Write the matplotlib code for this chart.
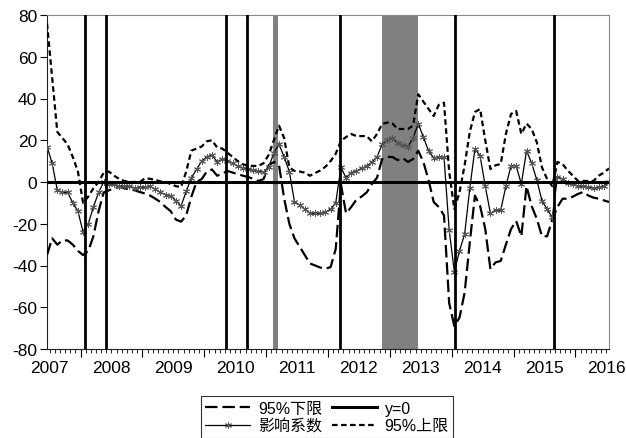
import matplotlib
matplotlib.use('Agg')
import matplotlib.pyplot as plt
from matplotlib.lines import Line2D
import numpy as np
import pandas as pd

plt.rcParams['font.family'] = ['Liberation Sans', 'Noto Sans CJK SC']
plt.rcParams['axes.unicode_minus'] = False
plt.rcParams['lines.scale_dashes'] = False

# ---------------- data ----------------
months = pd.period_range('2007-06', periods=110, freq='M')

coef = [17, 9, -4, -5, -5, -10, -14, -24, -20, -12,
        -5, 0, -1, -1, -2, -2, -2, -3, -2.5, -2.5,
        -2, -3.5, -5, -6, -6.5, -9, -11.5, -4.5, 2, 6,
        10, 12, 13, 9.6, 11, 10, 9, 7.5, 6.8, 6.2,
        5.8, 5.3, 4.8, 7, 14, 18, 12, 5, -9.5, -11,
        -13, -15, -15, -15, -14.5, -13, -10, 7, 2, 4.5,
        5.3, 6.5, 7.5, 9.5, 12, 18, 20, 21, 18.5, 17.5,
        17, 21, 28, 21.5, 15, 11.5, 12, 12, -23, -43,
        -33, -25, -3, 16, 12.5, -2, -15, -13.5, -13.5, -2,
        7.7, 7.7, -1, 15, 9, 1, -9, -13, -17, 2.4,
        1.4, -0.5, -1, -2, -2, -2.5, -3, -2.5, -2, 0]

lower = [-35, -27, -30, -28, -28, -30, -33, -35, -33, -26,
         -14, -5, -4, -3, -2.4, -3, -3.5, -4, -4.8, -5.5,
         -6.5, -8, -9.6, -12, -14, -18, -19, -16, -7, 0,
         1.4, 5, 6, 3, 4, 5.3, 4.5, 3.8, 3, 2.4,
         1.5, 0.5, 1.4, 8, 9.6, 8, -8, -20, -27, -31,
         -35, -39, -40, -41, -41.5, -40.8, -32, -1, -15, -12,
         -8.5, -7, -5, -1, 2, 11, 12, 12, 10.5, 11.5,
         9.6, 11, 15, 9.6, 1, -9.6, -12, -16, -58, -69,
         -65, -53, -29, -6.5, -11.5, -22.5, -41.7, -38.5, -37.8, -30,
         -22.5, -18.7, -26, -2, -11.5, -17.7, -26, -26, -18, -12,
         -8, -8, -7, -5.7, -4.8, -6.5, -7.5, -8, -8.8, -9.6]

upper = [76, 50, 24, 21, 18, 12, 5, -10, -7, -3,
         0, 4.5, 5, 3, 1.5, 0.5, 0, 0, 0, 1.8,
         1.5, 1, 0.3, 0, -1, -2, -2.4, 5, 15, 16,
         17, 19.5, 20, 16.5, 16, 14, 12, 10, 8.5, 7.8,
         7.7, 7.7, 9, 13, 20, 27, 21, 7, 5.3, 5,
         4.5, 3, 4.3, 5.5, 7.3, 10, 13.5, 19.7, 21.5, 23,
         22, 22, 22, 19.5, 23, 27.8, 28.5, 28, 25.4, 25.4,
         25.4, 27, 42, 38.5, 35, 31.6, 37, 38, 5, -13,
         -5, 8, 24, 33.5, 35, 20, 6.2, 8, 8.6, 23,
         32.6, 34, 23, 28, 25.4, 19, 7, 1.4, -2, 9.6,
         8.6, 5.5, 3, 0.5, 0.5, 0.5, 0.5, 3, 4.5, 6.5]

event_dates = [2008.08, 2008.42, 2010.35, 2010.69, 2012.20, 2014.05, 2015.65]
shade_periods = [(2011.107, 2011.188), (2012.87, 2013.45)]
year_labels = list(range(2007, 2017))
yticks = list(range(-80, 81, 20))
legend_labels = ['95%下限', '影响系数', 'y=0', '95%上限']

# ---------------- plot ----------------
t = np.array([p.year + (p.month - 0.5) / 12 for p in months])

fig = plt.figure(figsize=(6.26, 4.39), dpi=100)
ax = fig.add_axes([47 / 626, 1 - 350 / 439, (609 - 47) / 626, (350 - 16) / 439])

for a, b in shade_periods:
    ax.axvspan(a, b, color='#808080', lw=0, zorder=1)

l_lower, = ax.plot(t, lower, color='black', lw=1.6, dashes=(9, 3.5), zorder=3)
l_coef, = ax.plot(t, coef, color='black', lw=0.9, marker=(6, 2, 0), ms=5,
                  mec='#555555', mew=0.7, zorder=3)
l_zero = ax.axhline(0, color='black', lw=2.2, zorder=4)
l_upper, = ax.plot(t, upper, color='black', lw=1.6, dashes=(4, 2.5), zorder=3)

for d in event_dates:
    ax.axvline(d, color='black', lw=2.0, zorder=5)

ax.set_xlim(t[0], t[-1])
ax.set_ylim(-80, 80)
ax.set_yticks(yticks)
ax.set_yticklabels([str(v) for v in yticks], fontsize=12.5)

ax.set_xticks([y for y in year_labels if t[0] < y < t[-1]])
ax.set_xticklabels([])
ax.set_xticks([m.year + (m.month - 1) / 12 for m in months if t[0] < m.year + (m.month - 1) / 12 < t[-1]], minor=True)
ax.tick_params(axis='x', which='major', length=6, width=0.8, direction='out')
ax.tick_params(axis='x', which='minor', length=3, width=0.6, direction='out')
ax.tick_params(axis='y', length=5, width=0.8, direction='out', pad=2)

for y in year_labels:
    ax.text(y + 0.5, -0.055, str(y), transform=ax.get_xaxis_transform(),
            ha='center', va='center', fontsize=12.5, clip_on=False)

for s in ['left', 'bottom']:
    ax.spines[s].set_color('#222222')
    ax.spines[s].set_linewidth(0.8)
for s in ['top', 'right']:
    ax.spines[s].set_color('#888888')
    ax.spines[s].set_linewidth(0.8)

h_lower = Line2D([], [], color='black', lw=1.6, dashes=(9, 3.5))
h_coef = Line2D([], [], color='black', lw=0.9, marker=(6, 2, 0), ms=5, mec='#555555', mew=0.7)
h_zero = Line2D([], [], color='black', lw=2.2)
h_upper = Line2D([], [], color='black', lw=1.6, dashes=(4, 2.5))
leg = fig.legend([h_lower, h_coef, h_zero, h_upper], legend_labels, ncol=2,
                 loc='upper center', bbox_to_anchor=(327 / 626, 1 - 397 / 439),
                 fontsize=11.5, frameon=True, fancybox=False, edgecolor='black',
                 handlelength=2.8, handletextpad=0.5, columnspacing=0.6,
                 labelspacing=0.15, borderpad=0.3, borderaxespad=0)
leg.get_frame().set_linewidth(0.8)

fig.savefig('out.png', dpi=100)
